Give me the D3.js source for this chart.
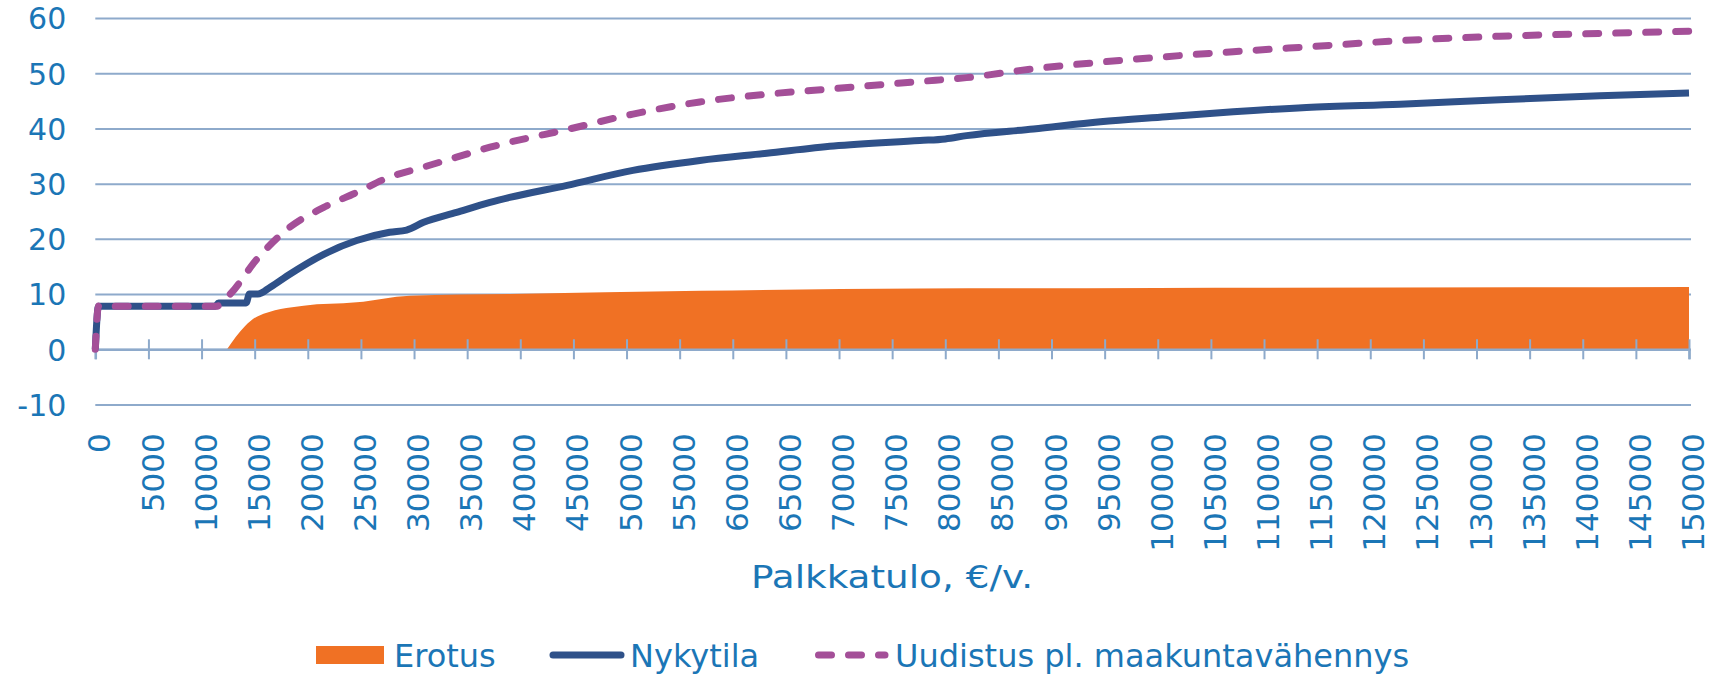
<!DOCTYPE html>
<html>
<head>
<meta charset="utf-8">
<script src="https://cdn.jsdelivr.net/npm/d3@7"></script>
<style>
  body { margin: 0; background: #fff; overflow: hidden; }
  svg { display: block; }
  text { font-family: "DejaVu Sans", sans-serif; fill: #1b76b6; }
</style>
</head>
<body>
<div id="chart"></div>
<script>
// koko ja marginaalit
const width = 1725,
  height = 674;
const margin = { top: 18, right: 36, bottom: 269.5, left: 95.3 };
const innerWidth = width - margin.left - margin.right;
const innerHeight = height - margin.top - margin.bottom;

// tulotasot ja arvot luettu kuvasta
const nykytilaX = [0, 300, 11300, 11600, 14200, 14500, 15300, 16500, 18300, 21500, 24600, 27700, 29300, 30900, 34000, 37150, 39000, 44400, 50600, 56900, 63200, 69500, 77600, 80000, 82000, 88300, 94600, 100800, 107100, 114000, 122800, 132200, 141600, 150000];
const nykytilaY = [0, 7.8, 7.8, 8.4, 8.4, 10.0, 10.0, 11.3, 13.6, 17.2, 19.7, 21.2, 21.6, 23.0, 24.8, 26.6, 27.5, 29.7, 32.4, 34.2, 35.5, 36.8, 37.8, 38.1, 38.7, 39.9, 41.2, 42.1, 43.0, 43.8, 44.4, 45.2, 45.9, 46.4];

const uudistusX = [0, 300, 11400, 12700, 15200, 18300, 21500, 24600, 27700, 30900, 34000, 37150, 39000, 44400, 50600, 56900, 63200, 69500, 77600, 82000, 88300, 94600, 100800, 107100, 114300, 122800, 132200, 141600, 150000];
const uudistusY = [0, 7.8, 7.8, 10.0, 16.3, 22.1, 25.7, 28.4, 31.2, 33.0, 34.8, 36.6, 37.5, 39.8, 42.6, 44.8, 46.2, 47.2, 48.5, 49.2, 50.8, 52.0, 53.0, 53.9, 54.8, 55.9, 56.7, 57.2, 57.6];

const erotusX = [12400, 14100, 15300, 19600, 24600, 29600, 39000, 57000, 77600, 100000, 150000];
const erotusY = [0, 4.2, 6.0, 7.9, 8.5, 9.7, 10.0, 10.6, 11.0, 11.1, 11.3];

const xTicks = d3.range(0, 150001, 5000);
const yTicks = [-10, 0, 10, 20, 30, 40, 50, 60];
const seriesNames = ["Erotus", "Nykytila", "Uudistus pl. maakuntavähennys"];
const xTitle = "Palkkatulo, €/v.";

const colors = { Erotus: "#f07124", Nykytila: "#2f5189", Uudistus: "#a44f98" };
const gridColor = "#8eaacb";

const toPoints = (xs, ys) => xs.map((x, i) => ({ x: x, y: ys[i] }));
const nykytila = toPoints(nykytilaX, nykytilaY);
const uudistus = toPoints(uudistusX, uudistusY);
const erotus = toPoints(erotusX, erotusY);

const svg = d3
  .select("#chart")
  .append("svg")
  .attr("width", width)
  .attr("height", height);

const g = svg
  .append("g")
  .attr("transform", `translate(${margin.left},${margin.top})`);

// asteikot
const xScale = d3.scaleLinear().domain([0, 150000]).range([0, innerWidth]);
const yScale = d3.scaleLinear().domain([-10, 60]).range([innerHeight, 0]);

// y-akseli ja vaakaviivat
const yAxis = d3
  .axisLeft(yScale)
  .tickValues(yTicks)
  .tickFormat((d) => String(d))
  .tickSize(-(innerWidth + 2))
  .tickPadding(29);

const yG = g.append("g").call(yAxis);
yG.select(".domain").remove();
yG.selectAll(".tick line").attr("stroke", gridColor).attr("stroke-width", 2);
yG.selectAll(".tick text")
  .attr("font-size", 30)
  .attr("dy", "0.36em");

// alue: erotus
const area = d3
  .area()
  .x((d) => xScale(d.x))
  .y0(yScale(0))
  .y1((d) => yScale(d.y))
  .curve(d3.curveMonotoneX);

g.append("path")
  .datum(erotus)
  .attr("fill", colors.Erotus)
  .attr("d", area);

// x-akseli nollan kohdalla
const xAxis = d3
  .axisBottom(xScale)
  .tickValues(xTicks)
  .tickFormat((d) => String(d))
  .tickSize(10);
const xG = g
  .append("g")
  .attr("transform", `translate(0,${yScale(0)})`)
  .call(xAxis);
xG.select(".domain").attr("stroke", gridColor).attr("stroke-width", 2.5);
xG.selectAll(".tick line")
  .attr("stroke", gridColor)
  .attr("stroke-width", 2)
  .attr("y1", -10)
  .attr("y2", 10);
xG.selectAll(".tick text")
  .attr("font-size", 31)
  .attr("text-anchor", "end")
  .attr("transform", "rotate(-90)")
  .attr("x", -84)
  .attr("y", 0)
  .attr("dy", "0.47em");

// viivat
const line = d3
  .line()
  .x((d) => xScale(d.x))
  .y((d) => yScale(d.y))
  .curve(d3.curveMonotoneX);

g.append("path")
  .datum(nykytila)
  .attr("fill", "none")
  .attr("stroke", colors.Nykytila)
  .attr("stroke-width", 7)
  .attr("stroke-linejoin", "round")
  .attr("d", line);

g.append("path")
  .datum(uudistus)
  .attr("fill", "none")
  .attr("stroke", colors.Uudistus)
  .attr("stroke-width", 7)
  .attr("stroke-linecap", "round")
  .attr("stroke-dasharray", "13,17")
  .attr("d", line);

// akselin otsikko
svg.append("text")
  .attr("x", 892)
  .attr("y", 588)
  .attr("text-anchor", "middle")
  .attr("font-size", 32)
  .attr("textLength", 282)
  .attr("lengthAdjust", "spacingAndGlyphs")
  .text(xTitle);

// selite
const legend = svg.append("g").attr("transform", "translate(0,655)");

legend.append("rect")
  .attr("x", 316)
  .attr("y", -9)
  .attr("width", 68)
  .attr("height", 18)
  .attr("fill", colors.Erotus);
legend.append("text")
  .attr("x", 394)
  .attr("y", 12)
  .attr("font-size", 32)
  .text(seriesNames[0]);

legend.append("line")
  .attr("x1", 553).attr("x2", 621)
  .attr("stroke", colors.Nykytila)
  .attr("stroke-width", 7)
  .attr("stroke-linecap", "round");
legend.append("text")
  .attr("x", 630)
  .attr("y", 12)
  .attr("font-size", 32)
  .text(seriesNames[1]);

legend.append("line")
  .attr("x1", 818.5).attr("x2", 885)
  .attr("stroke", colors.Uudistus)
  .attr("stroke-width", 7)
  .attr("stroke-linecap", "round")
  .attr("stroke-dasharray", "13,17");
legend.append("text")
  .attr("x", 895)
  .attr("y", 12)
  .attr("font-size", 32)
  .text(seriesNames[2]);
</script>
</body>
</html>
